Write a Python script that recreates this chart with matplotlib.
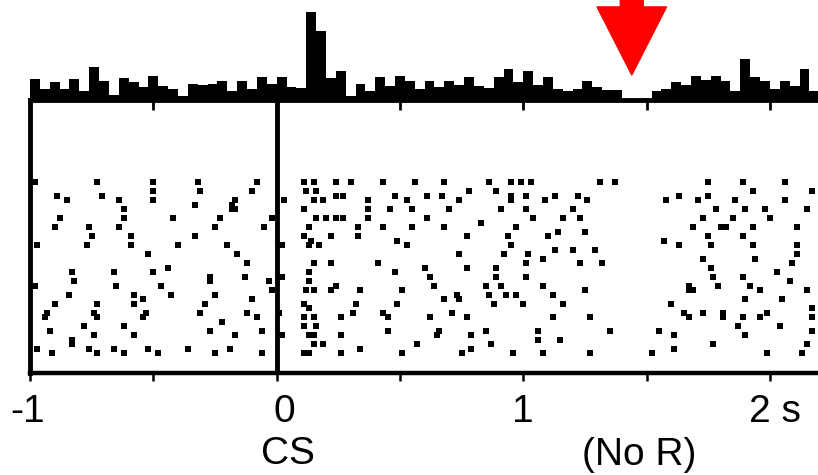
import matplotlib
matplotlib.use('Agg')
import matplotlib.pyplot as plt
import matplotlib.transforms as mtransforms
import numpy as np

plt.rcParams['font.family'] = ['Liberation Sans', 'DejaVu Sans']

# peri-event histogram, 40 ms bins from -1 s (heights in arbitrary units)
bin_start = -1.0
bin_width = 0.04
hist_counts = [21, 11, 18, 11, 21, 9, 33, 19, 5, 22,
               18, 13, 24, 14, 11, 4, 16, 15, 16, 19,
               9, 19, 11, 23, 16, 23, 13, 12, 88, 69,
               22, 29, 4, 16, 9, 23, 14, 24, 19, 11,
               19, 13, 19, 15, 23, 14, 12, 23, 31, 18,
               29, 15, 23, 11, 9, 11, 19, 13, 10, 10,
               1, 1, 1, 9, 11, 18, 15, 24, 20, 24,
               19, 9, 41, 23, 19, 11, 19, 14, 31, 9]

# raster: spike time (s) and trial row (0 = top)
spike_times = [
    # before CS
    -0.98, -0.73, -0.71, -0.50, -0.50, -0.50, -0.32, -0.31, -0.89, -0.85,
    -0.64, -0.62, -0.62, -0.64, -0.18, -0.18, -0.33, -0.88, -0.90, -0.76,
    -0.75, -0.77, -0.42, -0.23, -0.25, -0.59, -0.59, -0.33, -0.97, -0.40,
    -0.20, -0.52, -0.44, -0.83, -0.82, -0.84, -0.66, -0.65, -0.50, -0.47,
    -0.43, -0.27, -0.27, -0.25, -0.98, -0.58, -0.58, -0.54, -0.53, -0.54,
    -0.90, -0.93, -0.94, -0.92, -0.73, -0.74, -0.73, -0.29, -0.31, -0.22,
    -0.27, -0.78, -0.62, -0.83, -0.83, -0.74, -0.76, -0.73, -0.58, -0.97,
    -0.66, -0.52, -0.48, -0.36, -0.19, -0.91, -0.62, -0.25,
    -0.08, -0.10, -0.17, -0.17, -0.02, -0.05, -0.16, -0.12, -0.13, -0.03,
    -0.02, -0.10, -0.12, -0.08, -0.06, -0.17, -0.06,
    # CS response
    0.03, 0.02, 0.02, 0.01, 0.02,
    0.11, 0.15, 0.12, 0.16, 0.15, 0.19, 0.11, 0.16, 0.20, 0.24,
    0.27, 0.13, 0.11, 0.14, 0.17, 0.13, 0.22, 0.15, 0.22, 0.13,
    0.13, 0.15, 0.12, 0.24, 0.22, 0.11, 0.13, 0.11, 0.15, 0.11,
    0.16, 0.13, 0.15, 0.15, 0.19, 0.11, 0.13,
    # after CS
    0.24, 0.30, 0.24, 0.27, 0.26, 0.26, 0.26, 0.34, 0.32, 0.31,
    0.34, 0.37, 0.37, 0.37, 0.33, 0.33, 0.43, 0.48, 0.56, 0.61,
    0.53, 0.55, 0.46, 0.61, 0.43, 0.55, 0.49, 0.53, 0.41, 0.48,
    0.60, 0.62, 0.64, 0.51, 0.49, 0.43, 0.45, 0.45, 0.62, 0.57,
    0.51,
    0.68, 0.67, 0.78, 0.74, 0.70, 0.68, 0.83, 0.77, 0.86, 0.89,
    0.95, 0.99, 1.03, 0.95, 1.01, 0.95, 0.91, 1.01, 1.04, 0.97,
    0.94, 0.95, 0.92, 0.89, 0.89, 0.91, 1.02, 1.01, 1.01, 1.08,
    0.74, 0.77, 0.85, 0.86, 0.88, 0.93, 0.97, 1.00, 1.08, 1.12,
    1.16, 0.73, 0.68, 0.74, 0.71, 0.77, 0.66, 0.65, 0.85, 0.79,
    0.79, 0.75, 0.87, 0.96, 1.06, 1.06, 1.12, 1.15, 1.08, 1.27,
    1.25, 1.35, 1.27, 1.13, 1.09, 1.22, 1.26, 1.20, 1.23, 1.25,
    1.16, 1.14, 1.10, 1.13, 1.20, 1.29, 1.23, 1.32, 1.31, 1.37,
    # after omitted reward
    1.63, 1.58, 1.75, 1.75, 1.71, 1.78, 1.73, 1.69, 1.80, 1.82,
    1.85, 1.86, 1.90, 1.89, 1.93, 1.98, 2.00, 2.06, 2.06, 2.17,
    2.15, 2.11, 1.93, 1.57, 1.63, 1.75, 1.76, 1.73, 1.89, 1.93,
    1.94, 1.76, 1.77, 1.79, 1.89, 1.92, 1.96, 2.11, 2.11, 2.09,
    2.08, 2.03, 2.15, 1.67, 1.67, 1.69, 1.60, 1.65, 1.67, 1.73,
    1.81, 1.81, 1.90, 1.99, 1.96, 2.05, 2.17, 2.17, 2.17, 1.89,
    1.87, 1.90, 2.04, 1.55, 1.61, 1.61, 1.77, 1.52, 1.99, 2.13,
    2.15,
]
spike_rows = [
    0, 0, 3, 0, 2, 4, 0, 2, 3, 4,
    4, 6, 8, 10, 5, 6, 5, 8, 10, 10,
    12, 14, 8, 8, 10, 12, 14, 12, 14, 14,
    14, 16, 19, 20, 22, 25, 20, 23, 20, 23,
    25, 21, 22, 25, 23, 25, 27, 26, 29, 30,
    27, 29, 30, 33, 27, 29, 30, 27, 29, 31,
    33, 32, 32, 35, 36, 34, 37, 38, 34, 37,
    37, 37, 38, 37, 37, 38, 38, 38,
    0, 2, 4, 6, 8, 10, 16, 18, 21, 22,
    24, 26, 29, 30, 33, 34, 38,
    4, 14, 21, 29, 34,
    0, 0, 2, 2, 4, 4, 6, 8, 8, 8,
    8, 10, 12, 13, 14, 14, 12, 18, 18, 20,
    22, 24, 24, 23, 24, 27, 28, 30, 30, 32,
    32, 34, 34, 36, 36, 38, 38,
    0, 0, 3, 3, 30, 34, 38, 24, 27, 29,
    37, 4, 6, 8, 10, 12, 0, 3, 0, 3,
    4, 6, 6, 8, 10, 10, 13, 14, 18, 20,
    19, 21, 23, 24, 27, 29, 30, 33, 30, 36,
    38,
    0, 3, 2, 4, 6, 10, 9, 12, 0, 2,
    0, 0, 0, 3, 3, 4, 6, 6, 8, 10,
    12, 14, 16, 19, 21, 23, 16, 18, 21, 17,
    16, 19, 23, 25, 27, 25, 25, 27, 23, 25,
    27, 25, 26, 26, 29, 30, 33, 34, 33, 34,
    37, 38, 36, 38, 33, 35, 30, 35, 38, 30,
    24, 33, 38, 3, 4, 3, 4, 6, 8, 11,
    8, 11, 12, 15, 15, 15, 18, 18, 0, 0,
    3, 4, 0, 3, 4, 6, 8, 10, 10, 10,
    8, 4, 6, 0, 2, 6, 8, 0, 4, 2,
    6, 10, 10, 13, 14, 12, 14, 17, 12, 14,
    17, 19, 21, 23, 21, 23, 24, 14, 16, 18,
    22, 20, 24, 23, 24, 24, 27, 29, 30, 29,
    29, 30, 26, 29, 30, 26, 28, 30, 33, 30,
    32, 34, 32, 33, 34, 37, 36, 38, 38, 38,
    36,
]

tick_times = [-1, -0.5, 0, 0.5, 1, 1.5, 2]
reward_time = 1.44   # expected (omitted) reward

W, H = 818, 475
fig = plt.figure(figsize=(W / 100, H / 100), dpi=100)
x0 = 30 / W
xlim = (-1.0, 2.195)

# raster panel (y 100..373 px)
ax_r = fig.add_axes([x0, 1 - 373 / H, 1 - x0, 273 / H])
ax_r.patch.set_alpha(0)
ax_r.plot(spike_times, spike_rows, 's', color='black', ms=4.2, mew=0)
ax_r.axvline(0, color='black', lw=3.5)
ax_r.set_xlim(xlim)
ax_r.set_ylim(42.4, -18.2)
for s in ['top', 'right']:
    ax_r.spines[s].set_visible(False)
ax_r.spines['left'].set_linewidth(3.5)
ax_r.spines['bottom'].set_linewidth(3.2)
ax_r.set_yticks([])
ax_r.set_xticks(tick_times)
ax_r.tick_params(axis='x', direction='out', length=6, width=1.8, labelbottom=False)

# histogram panel (y 0..100 px)
ax_h = fig.add_axes([x0, 1 - 100 / H, 1 - x0, 100 / H])
ax_h.patch.set_alpha(0)
edges = bin_start + bin_width * np.arange(len(hist_counts) + 1)
ax_h.stairs(hist_counts, edges, fill=True, color='black')
ax_h.set_xlim(xlim)
ax_h.set_ylim(0, 100)
for s in ['top', 'right', 'left']:
    ax_h.spines[s].set_visible(False)
ax_h.spines['bottom'].set_linewidth(3.5)
ax_h.set_yticks([])
ax_h.set_xticks(tick_times[1:])
ax_h.tick_params(axis='x', direction='out', length=7, width=2, labelbottom=False)

# red arrow marking omitted reward
ax_h.annotate('', xy=(reward_time, 25), xytext=(reward_time, 112),
              arrowprops=dict(facecolor='#ff0000', edgecolor='#ff0000',
                              width=16.5, headwidth=50, headlength=49, shrink=0),
              annotation_clip=False)

# labels
tr = mtransforms.blended_transform_factory(ax_r.transData, fig.transFigure)
fs = 28
fig.text(-1.01, 1 - 412 / H, '-1', transform=tr, ha='center', va='center', fontsize=fs)
fig.text(0.03, 1 - 412 / H, '0', transform=tr, ha='center', va='center', fontsize=fs)
fig.text(1.0, 1 - 412 / H, '1', transform=tr, ha='center', va='center', fontsize=fs)
fig.text(2.02, 1 - 412 / H, '2 s', transform=tr, ha='center', va='center', fontsize=fs)
fig.text(0.045, 1 - 454 / H, 'CS', transform=tr, ha='center', va='center', fontsize=fs)
fig.text(1.47, 1 - 455 / H, '(No R)', transform=tr, ha='center', va='center', fontsize=fs)

fig.savefig('out.png', dpi=100)
